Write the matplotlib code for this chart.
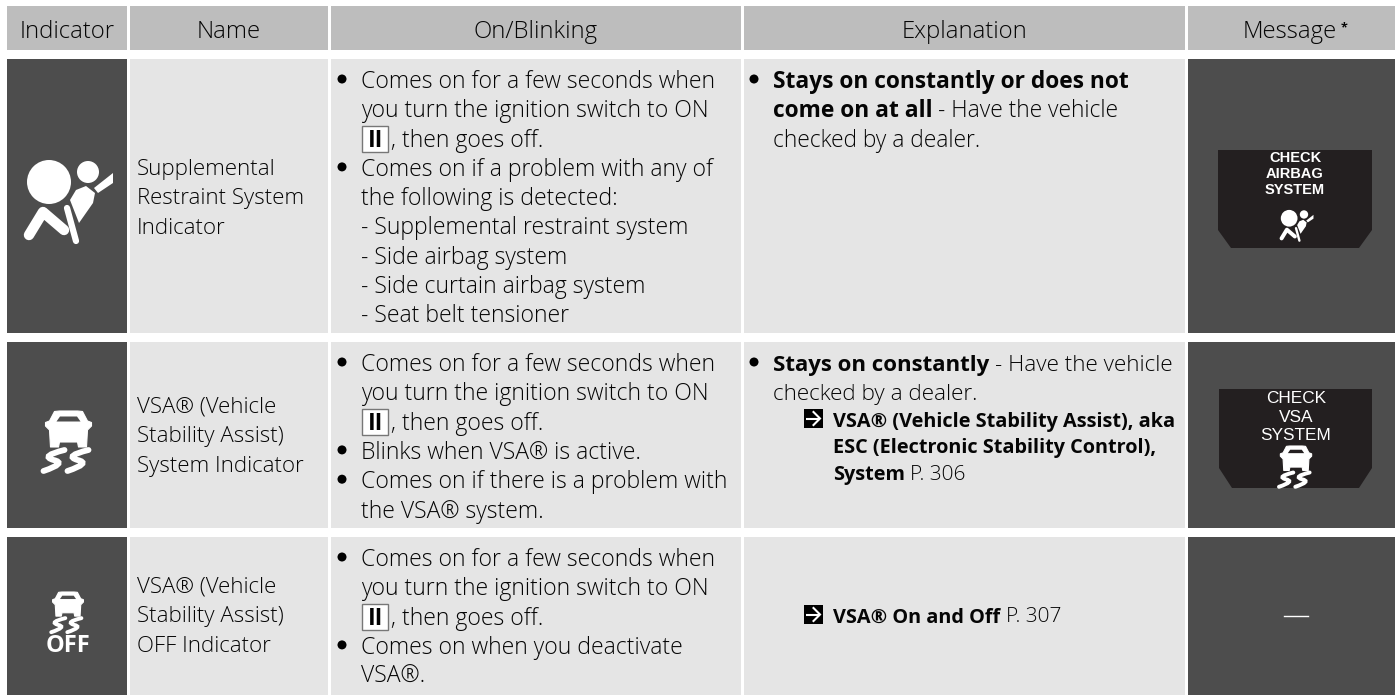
import matplotlib
matplotlib.use("Agg")
import matplotlib.pyplot as plt
from matplotlib.patches import Rectangle, Polygon, Circle, PathPatch
from matplotlib.path import Path

W, H = 1395, 695
FONT = "Open Sans"
FS_BODY = 16.55
FS_NAME = 16.05
FS_HEAD = 17.2
FS_EXPL = 16.4
FS_EXPL_BOLD2 = 16.0
FS_XREF = 14.3
FS_PAGE = 15.0
LINE = 29.3
TEXT_COLOR = "#050505"
HEADER_BG = "#bdbdbd"
LIGHT_BG = "#e5e5e5"
DARK_BG = "#4d4d4d"
PANEL_BG = "#231f20"

# --- table content ---
HEADERS = ["Indicator", "Name", "On/Blinking", "Explanation", "Message"]
NAMES = [
    ["Supplemental", "Restraint System", "Indicator"],
    ["VSA® (Vehicle", "Stability Assist)", "System Indicator"],
    ["VSA® (Vehicle", "Stability Assist)", "OFF Indicator"],
]
ON_BLINK_1 = [
    "Comes on for a few seconds when",
    "you turn the ignition switch to ON",
    ", then goes off.",
    "Comes on if a problem with any of",
    "the following is detected:",
    "- Supplemental restraint system",
    "- Side airbag system",
    "- Side curtain airbag system",
    "- Seat belt tensioner",
]
ON_BLINK_2 = [
    "Comes on for a few seconds when",
    "you turn the ignition switch to ON",
    ", then goes off.",
    "Blinks when VSA® is active.",
    "Comes on if there is a problem with",
    "the VSA® system.",
]
ON_BLINK_3 = [
    "Comes on for a few seconds when",
    "you turn the ignition switch to ON",
    ", then goes off.",
    "Comes on when you deactivate",
    "VSA®.",
]
ON_BLINK = [ON_BLINK_1, ON_BLINK_2, ON_BLINK_3]
BULLET_LINES = [[0, 3], [0, 3, 4], [0, 3]]

EXPLAIN_1 = [
    [("Stays on constantly or does not", True)],
    [("come on at all", True), ("- Have the vehicle", False)],
    [("checked by a dealer.", False)],
]
EXPLAIN_2 = [
    [("Stays on constantly", True), ("- Have the vehicle", False)],
    [("checked by a dealer.", False)],
]
XREF_2 = [
    [("VSA® (Vehicle Stability Assist), aka", True)],
    [("ESC (Electronic Stability Control),", True)],
    [("System", True), ("P. 306", False)],
]
XREF_3 = [("VSA® On and Off", True), ("P. 307", False)]
MESSAGE_1 = ["CHECK", "AIRBAG", "SYSTEM"]
MESSAGE_2 = ["CHECK", "VSA", "SYSTEM"]

# --- layout in pixels ---
COLS = [(7, 127), (130, 328), (331, 741), (744, 1185), (1188, 1395)]
ROWS = [(59, 333), (342, 528), (537, 695)]

fig = plt.figure(figsize=(W / 100, H / 100), dpi=100, facecolor="white")
ax = fig.add_axes([0, 0, 1, 1])
ax.set_xlim(0, W)
ax.set_ylim(H, 0)
ax.axis("off")
renderer = fig.canvas.get_renderer()


def box(x0, y0, x1, y1, color, **kw):
    ax.add_patch(Rectangle((x0, y0), x1 - x0, y1 - y0, facecolor=color, edgecolor="none", **kw))


def txt(x, y, s, bold=False, color=TEXT_COLOR, size=FS_BODY, ha="left", family=FONT):
    return ax.text(x, y, s, ha=ha, va="baseline", fontsize=size, color=color, family=family,
                   fontweight="bold" if bold else "light")


def runs(x, y, parts, size=FS_EXPL, light_size=None):
    # one line made of bold and regular pieces
    for s, bold in parts:
        run_size = size if bold or light_size is None else light_size
        t = txt(x, y, s, bold, size=run_size)
        x = t.get_window_extent(renderer).x1 + 5.5


def bullet(x, y):
    ax.add_patch(Circle((x, y), 4.5, facecolor="black", edgecolor="none"))


def ignition_mark(x, baseline):
    ax.add_patch(Rectangle((x, baseline - 21), 26, 26, facecolor="white", edgecolor="#777777", lw=1))
    txt(x + 13, baseline, "II", True, "#000000", ha="center")


def arrow_mark(x, y, size=19):
    box(x, y, x + size, y + size, "black")
    m = y + size / 2
    ax.plot([x + 2, x + size - 3], [m, m], color="white", lw=1.5, solid_capstyle="butt")
    ax.plot([x + size * 0.5, x + size - 3, x + size * 0.5], [y + 3, m, y + size - 3],
            color="white", lw=1.5, solid_joinstyle="miter")


def draw_car(cx, top, s, bg=DARK_BG):
    # outline drawn around centre line, sizes in pixels at s=1
    def pt(dx, dy):
        return (cx + dx * s, top + dy * s)

    half = [(9, 0), (14, 0.5), (19, 10), (23, 11.5), (23, 15), (19, 19), (18, 36), (10, 36), (9, 31)]
    outline = [pt(dx, dy) for dx, dy in half] + [pt(-dx, dy) for dx, dy in reversed(half)]
    ax.add_patch(Polygon(outline, closed=True, facecolor="white", edgecolor="white",
                         lw=0.8, joinstyle="round"))
    window = [pt(-8.5, 5.5), pt(8.5, 5.5), pt(12, 10.5), pt(-12, 10.5)]
    ax.add_patch(Polygon(window, closed=True, facecolor=bg, edgecolor="none"))
    codes = [Path.MOVETO, Path.CURVE3, Path.CURVE3, Path.CURVE3, Path.CURVE3]
    for off in (-27, -3):
        verts = [pt(off + 23, 39), pt(off - 2, 45), pt(off + 12, 49), pt(off + 26, 52), pt(off + 2, 60)]
        ax.add_patch(PathPatch(Path(verts, codes), facecolor="none", edgecolor="white",
                               lw=4.2 * s, capstyle="round"))


def draw_airbag(cx, cy, s):
    # reference shape centred on (67, 205)
    def pt(x, y):
        return (cx + (x - 67) * s, cy + (y - 205) * s)

    ax.add_patch(Circle(pt(49, 182), 22 * s, facecolor="white", edgecolor="none"))
    ax.add_patch(Circle(pt(88, 172), 11 * s, facecolor="white", edgecolor="none"))
    torso = [(86, 186), (95, 193), (93, 203), (79, 223), (70, 200), (76, 190)]
    ax.add_patch(Polygon([pt(*p) for p in torso], closed=True, facecolor="white", edgecolor="none"))
    bag = [(94, 188), (113, 173), (113, 183), (98, 193)]
    ax.add_patch(Polygon([pt(*p) for p in bag], closed=True, facecolor="white", edgecolor="none"))
    ax.plot(*zip(pt(29, 235), pt(43, 212), pt(64, 230)), color="white", lw=7.5 * s,
            solid_capstyle="round", solid_joinstyle="round")
    ax.plot(*zip(pt(67, 208), pt(76, 241)), color="white", lw=4.5 * s, solid_capstyle="round")


def panel(x0, y0, x1, y1, chamfer_y, inset):
    pts = [(x0, y0), (x1, y0), (x1, chamfer_y), (x1 - inset, y1), (x0 + inset, y1), (x0, chamfer_y)]
    ax.add_patch(Polygon(pts, closed=True, facecolor=PANEL_BG, edgecolor="none"))


# --- cell backgrounds ---
for i, (x0, x1) in enumerate(COLS):
    box(x0, 6, x1, 50, HEADER_BG)
    for y0, y1 in ROWS:
        box(x0, y0, x1, y1, DARK_BG if i in (0, 4) else LIGHT_BG)

# --- header row ---
for s, xc in zip(HEADERS, [67, 229, 536, 964, 1290]):
    txt(xc, 38, s, size=FS_HEAD, ha="center")
txt(1341, 31, "*", True, size=9)

# --- name column ---
for lines, first in zip(NAMES, [175, 413, 593]):
    for k, s in enumerate(lines):
        txt(137, first + k * LINE, s, size=FS_NAME)

# --- on/blinking column ---
for lines, bullets, (y0, _) in zip(ON_BLINK, BULLET_LINES, ROWS):
    for k, s in enumerate(lines):
        base = y0 + 29 + k * LINE
        if k == 2:
            ignition_mark(362, base)
            txt(391, base, s)
        else:
            txt(361, base, s)
        if k in bullets:
            bullet(342, base - 9)

# --- explanation column ---
bullet(754, 79)
for k, parts in enumerate(EXPLAIN_1):
    runs(773, 88 + k * LINE, parts)
bullet(754, 362)
for k, parts in enumerate(EXPLAIN_2):
    runs(773, 371 + k * LINE, parts, size=FS_EXPL_BOLD2, light_size=FS_EXPL - 0.2)
arrow_mark(804, 409)
for parts, base in zip(XREF_2, [427, 453.5, 480]):
    runs(833, base, parts, size=FS_XREF, light_size=FS_PAGE)
arrow_mark(804, 605)
runs(833, 622.5, XREF_3, size=FS_XREF, light_size=FS_PAGE)

# --- indicator icons ---
draw_airbag(67, 205, 1.0)
draw_car(68.5, 411, 1.0)
draw_car(68, 592, 0.67)
txt(68, 652, "OFF", True, "white", size=17, ha="center")

# --- message panels ---
panel(1218, 150, 1372, 248, 230, 13)
for s, base in zip(MESSAGE_1, [162, 178, 194]):
    txt(1295, base, s, True, "white", size=10.5, ha="center", family="Liberation Sans")
draw_airbag(1296, 227, 0.38)

panel(1219, 389, 1372, 488, 468, 13)
for s, base in zip(MESSAGE_2, [403, 422, 440]):
    txt(1296, base, s, False, "white", size=12.4, ha="center", family="Liberation Sans")
draw_car(1296, 446, 0.68, PANEL_BG)

ax.plot([1284, 1308], [616, 616], color="white", lw=1)

fig.savefig("out.png", dpi=100, facecolor="white")
